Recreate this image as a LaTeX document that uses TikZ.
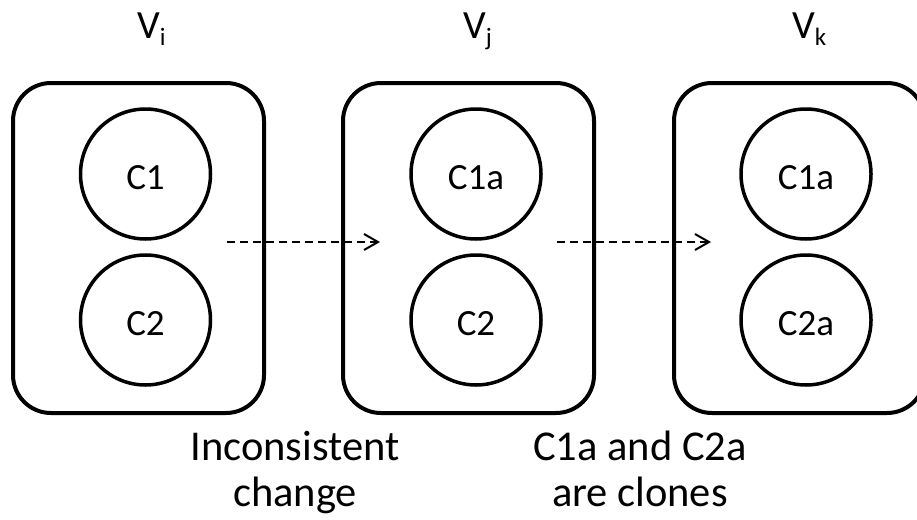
\documentclass[tikz,border=0pt]{standalone}
\usepackage{fontspec}
\setmainfont{Carlito}
\usetikzlibrary{arrows.meta}
\begin{document}
\begin{tikzpicture}[x=1pt,y=-1pt,
  boxnode/.style={draw, line width=4pt, rounded corners=38pt, minimum width=251pt, minimum height=330pt, inner sep=0pt},
  comp/.style={draw, circle, line width=3.5pt, minimum size=130pt, inner sep=0pt, font=\fontsize{37}{37}\selectfont, text height=31pt, text depth=0pt},
  vlabel/.style={anchor=base west, inner sep=0pt, font=\fontsize{40}{40}\selectfont},
  dasharrow/.style={dash pattern=on 8pt off 5pt, line width=2pt, -{Straight Barb[length=14pt,width=16pt,line width=2pt]}},
  caption/.style={align=center, inner sep=0pt, anchor=base, font=\fontsize{42.5}{46}\selectfont}]
\useasboundingbox (0,0) rectangle (917,519);
\clip (0,0) rectangle (917,519);
\newcommand{\vsub}[1]{\raisebox{-7pt}{\fontsize{25}{25}\selectfont #1}}

% version boxes
\node[boxnode] (b1) at (138.5,248) {};
\node[boxnode] (b2) at (468.5,248) {};
\node[boxnode] (b3) at (799.5,248) {};

% version labels
\node[vlabel] (vi) at (137,38) {V\vsub{i}};
\node[vlabel] (vj) at (463,38) {V\vsub{j}};
\node[vlabel] (vk) at (792,38) {V\vsub{k}};

% components
\node[comp] (c1) at (145.5,174) {C1};
\node[comp] (c2) at (145.5,320) {C2};
\node[comp] (c1a) at (476,174) {C1a};
\node[comp] (c2b) at (476,320) {C2};
\node[comp] (c1k) at (806,174) {C1a};
\node[comp] (c2k) at (806,320) {C2a};

% arrows
\draw[dasharrow] ([shift={(-39pt,6pt)}]b1.east) -- ([shift={(39pt,6pt)}]b2.west);
\draw[dasharrow] ([shift={(-39pt,6pt)}]b2.east) -- ([shift={(39pt,6pt)}]b3.west);

% captions
\node[caption] (t1) at (295,506) {Inconsistent\\change};
\node[caption] (t2) at (640,506) {C1a and C2a\\are clones};
\end{tikzpicture}
\end{document}
